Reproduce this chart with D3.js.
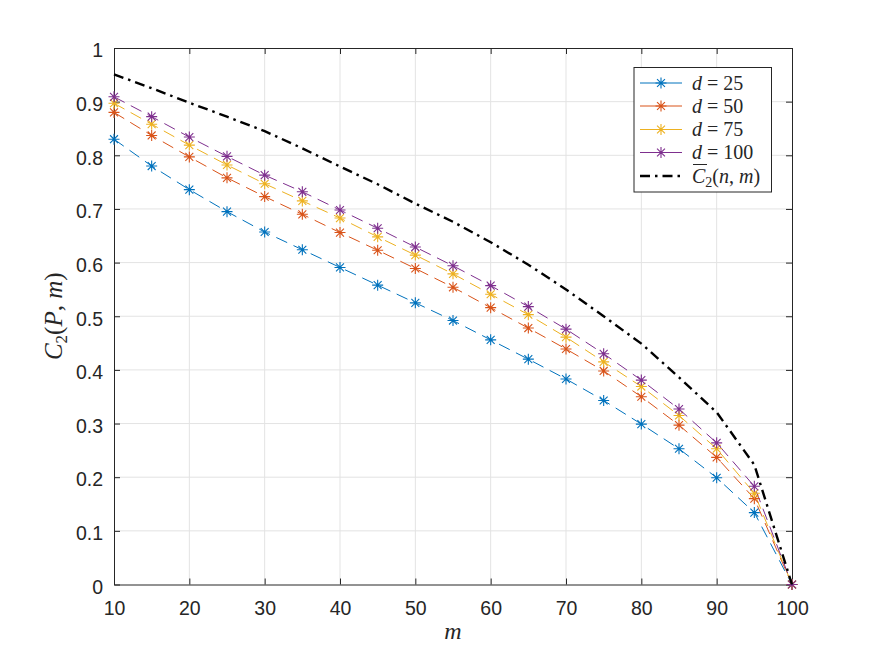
<!DOCTYPE html>
<html>
<head>
<meta charset="utf-8">
<script src="https://cdn.jsdelivr.net/npm/d3@7"></script>
<style>
  body { margin: 0; background: #fff; }
  svg { display: block; }
</style>
</head>
<body>
<div id="chart"></div>
<script>
// values
const mValues = [10, 15, 20, 25, 30, 35, 40, 45, 50, 55, 60, 65, 70, 75, 80, 85, 90, 95, 100];
const d25 = [0.830, 0.780, 0.736, 0.695, 0.657, 0.624, 0.591, 0.558, 0.525, 0.492, 0.456, 0.420, 0.383, 0.343, 0.299, 0.253, 0.199, 0.134, 0];
const d50 = [0.880, 0.837, 0.797, 0.758, 0.723, 0.690, 0.656, 0.623, 0.589, 0.554, 0.516, 0.478, 0.439, 0.398, 0.350, 0.297, 0.237, 0.160, 0];
const d75 = [0.897, 0.858, 0.819, 0.782, 0.747, 0.715, 0.683, 0.648, 0.614, 0.579, 0.541, 0.503, 0.461, 0.415, 0.369, 0.315, 0.253, 0.170, 0];
const d100 = [0.909, 0.872, 0.834, 0.798, 0.763, 0.732, 0.698, 0.664, 0.629, 0.594, 0.557, 0.518, 0.476, 0.430, 0.381, 0.327, 0.264, 0.183, 0];
const bound = [0.951, 0.925, 0.898, 0.872, 0.845, 0.813, 0.779, 0.746, 0.710, 0.676, 0.638, 0.596, 0.550, 0.500, 0.449, 0.386, 0.321, 0.223, 0];
const seriesNames = ["25", "50", "75", "100"];
const seriesColors = ["#0072BD", "#D95319", "#EDB120", "#7E2F8E"];
const xTicks = [10, 20, 30, 40, 50, 60, 70, 80, 90, 100];
const yTicks = [0, 0.1, 0.2, 0.3, 0.4, 0.5, 0.6, 0.7, 0.8, 0.9, 1];

const width = 875, height = 657;
const plotL = 114, plotR = 792, plotT = 48, plotB = 584.5;
const axisColor = "#262626";
const tickFont = "'Liberation Sans', Arial, sans-serif";
const mathFont = "'Liberation Serif', 'DejaVu Serif', serif";

const svg = d3.select("#chart").append("svg")
    .attr("width", width)
    .attr("height", height);

const x = d3.scaleLinear().domain([10, 100]).range([plotL, plotR]);
const y = d3.scaleLinear().domain([0, 1]).range([plotB, plotT]);

// grid
const grid = svg.append("g").attr("stroke", "#e3e3e3").attr("stroke-width", 1);
grid.selectAll(".gx").data(xTicks.slice(1, -1)).enter().append("line")
    .attr("x1", d => x(d)).attr("x2", d => x(d))
    .attr("y1", plotT).attr("y2", plotB);
grid.selectAll(".gy").data(yTicks.slice(1, -1)).enter().append("line")
    .attr("x1", plotL).attr("x2", plotR)
    .attr("y1", d => y(d)).attr("y2", d => y(d));

// axes: bottom/left with labels, top/right mirrored ticks
const tickLen = 6;
const axB = svg.append("g").attr("transform", `translate(0,${plotB})`)
    .call(d3.axisBottom(x).tickValues(xTicks).tickSizeInner(-tickLen).tickSizeOuter(0).tickPadding(17).tickFormat(d3.format("d")));
const axL = svg.append("g").attr("transform", `translate(${plotL},0)`)
    .call(d3.axisLeft(y).tickValues(yTicks).tickSizeInner(-tickLen).tickSizeOuter(0).tickPadding(11).tickFormat(d => d === 0 || d === 1 ? d3.format("d")(d) : d3.format(".1f")(d)));
const axT = svg.append("g").attr("transform", `translate(0,${plotT})`)
    .call(d3.axisTop(x).tickValues(xTicks).tickSizeInner(-tickLen).tickSizeOuter(0).tickFormat(""));
const axR = svg.append("g").attr("transform", `translate(${plotR},0)`)
    .call(d3.axisRight(y).tickValues(yTicks).tickSizeInner(-tickLen).tickSizeOuter(0).tickFormat(""));

[axB, axL, axT, axR].forEach(a => {
    a.select(".domain").attr("stroke", axisColor);
    a.selectAll(".tick line").attr("stroke", axisColor);
    a.selectAll("text").attr("fill", axisColor)
        .style("font-family", tickFont).style("font-size", "19.5px");
});
axL.selectAll("text").attr("dy", "0.45em");
axB.selectAll("text").attr("dy", "0.71em");

// lines
const line = d3.line().x((d, i) => x(mValues[i])).y(d => y(d));
const seriesData = [d25, d50, d75, d100];

function asterisk(g, cx, cy, color, r) {
    const p = `M${cx - r},${cy}L${cx + r},${cy}M${cx},${cy - r}L${cx},${cy + r}` +
        `M${cx - r * 0.72},${cy - r * 0.72}L${cx + r * 0.72},${cy + r * 0.72}` +
        `M${cx - r * 0.72},${cy + r * 0.72}L${cx + r * 0.72},${cy - r * 0.72}`;
    g.append("path").attr("d", p).attr("stroke", color).attr("stroke-width", 1.1).attr("fill", "none");
}

const plot = svg.append("g");
seriesData.forEach((vals, k) => {
    plot.append("path")
        .datum(vals)
        .attr("d", line)
        .attr("fill", "none")
        .attr("stroke", seriesColors[k])
        .attr("stroke-width", 1)
        .attr("stroke-dasharray", "12,7");
});
seriesData.forEach((vals, k) => {
    const g = plot.append("g");
    vals.forEach((v, i) => asterisk(g, x(mValues[i]), y(v), seriesColors[k], 5.5));
});

plot.append("path")
    .datum(bound)
    .attr("d", line)
    .attr("fill", "none")
    .attr("stroke", "#000")
    .attr("stroke-width", 2.4)
    .attr("stroke-dasharray", "10,5,2.5,5");

// axis labels
svg.append("text")
    .attr("x", (plotL + plotR) / 2).attr("y", 639)
    .attr("text-anchor", "middle")
    .style("font-family", mathFont).style("font-style", "italic").style("font-size", "24px")
    .attr("fill", axisColor)
    .text("m");

const yl = svg.append("text")
    .attr("transform", `translate(62,${(plotT + plotB) / 2}) rotate(-90)`)
    .attr("text-anchor", "middle")
    .style("font-family", mathFont).style("font-size", "25px")
    .attr("fill", axisColor);
yl.append("tspan").style("font-style", "italic").text("C");
yl.append("tspan").attr("dy", 5).style("font-size", "17px").text("2");
yl.append("tspan").attr("dy", -5).text("(");
yl.append("tspan").style("font-style", "italic").text("P");
yl.append("tspan").text(", ");
yl.append("tspan").style("font-style", "italic").text("m");
yl.append("tspan").text(")");

// legend
const lg = svg.append("g");
lg.append("rect")
    .attr("x", 634).attr("y", 67.5).attr("width", 137.5).attr("height", 124.5)
    .attr("fill", "#fff").attr("stroke", axisColor).attr("stroke-width", 1);
const rowY = [83, 106, 129.5, 152.5, 176];
seriesNames.forEach((name, k) => {
    const yy = rowY[k];
    lg.append("line").attr("x1", 640).attr("x2", 682).attr("y1", yy).attr("y2", yy)
        .attr("stroke", seriesColors[k]).attr("stroke-width", 1);
    asterisk(lg, 661, yy, seriesColors[k], 5.5);
    const t = lg.append("text").attr("x", 692).attr("y", yy + 6.5)
        .style("font-family", mathFont).style("font-size", "20px").attr("fill", axisColor);
    t.append("tspan").style("font-style", "italic").text("d");
    t.append("tspan").text(" = " + name);
});
const by = rowY[4];
lg.append("line").attr("x1", 640).attr("x2", 682).attr("y1", by).attr("y2", by)
    .attr("stroke", "#000").attr("stroke-width", 2.4).attr("stroke-dasharray", "10,5,2.5,5");
const bt = lg.append("text").attr("x", 692).attr("y", by + 6.5)
    .style("font-family", mathFont).style("font-size", "20px").attr("fill", axisColor);
bt.append("tspan").style("font-style", "italic").text("C");
bt.append("tspan").attr("dy", 4).style("font-size", "14px").text("2");
bt.append("tspan").attr("dy", -4).text("(");
bt.append("tspan").style("font-style", "italic").text("n");
bt.append("tspan").text(", ");
bt.append("tspan").style("font-style", "italic").text("m");
bt.append("tspan").text(")");
lg.append("line").attr("x1", 693).attr("x2", 707).attr("y1", by - 11.5).attr("y2", by - 11.5)
    .attr("stroke", axisColor).attr("stroke-width", 1);
</script>
</body>
</html>
